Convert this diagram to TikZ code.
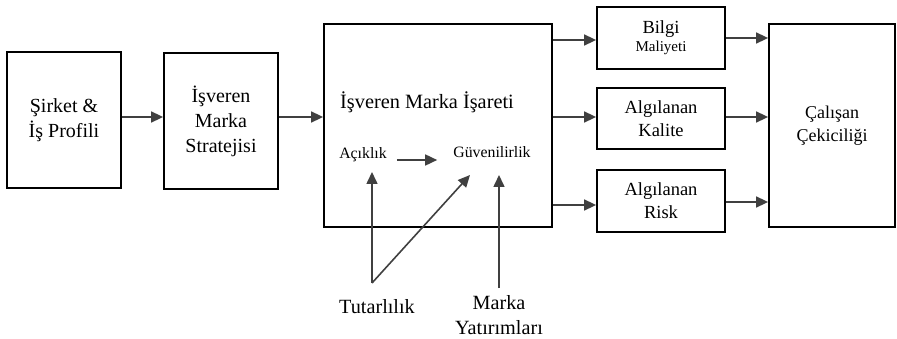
\documentclass[tikz,border=0pt]{standalone}
\usepackage{fontspec}
\setmainfont{Liberation Serif}
\usetikzlibrary{arrows.meta}
\definecolor{arrgray}{HTML}{404040}
\begin{document}
\begin{tikzpicture}[x=1pt,y=-1pt,
  box/.style={draw=black, line width=1.8pt, align=center, inner sep=0pt,
    font=\fontsize{20}{25}\selectfont},
  rbox/.style={box, font=\fontsize{18.5}{23}\selectfont},
  lbl/.style={align=center, inner sep=0pt, font=\fontsize{20.3}{25}\selectfont},
  small/.style={align=center, inner sep=0pt, font=\fontsize{15.8}{20}\selectfont},
  bottom/.style={align=center, inner sep=0pt, font=\fontsize{20.2}{25}\selectfont},
  arr/.style={draw=arrgray, line width=1.6pt, -{Triangle[length=12pt,width=11pt]}}]
\useasboundingbox (0,0) rectangle (897,339);
% boxes
\node[box, minimum width=114pt, minimum height=136pt] (b1) at (64,120) {Şirket \&\\İş Profili};
\node[box, minimum width=114pt, minimum height=136pt] (b2) at (221,121) {İşveren\\Marka\\Stratejisi};
\node[box, minimum width=228pt, minimum height=203pt] (b3) at (438,125.5) {};
\node[rbox, minimum width=128pt, minimum height=62pt] (bilgi) at (661,38)
  {Bilgi\\[-5pt]{\fontsize{15}{18}\selectfont Maliyeti}};
\node[rbox, minimum width=128pt, minimum height=61pt] (kalite) at (661,118.5) {Algılanan\\Kalite};
\node[rbox, minimum width=128pt, minimum height=62pt] (risk) at (661,201) {Algılanan\\Risk};
\node[box, font=\fontsize{18}{23}\selectfont, minimum width=126pt, minimum height=203pt] (cal) at (832,125.5) {Çalışan\\Çekiciliği};
% inner texts
\node[lbl] (isaret) at (427,102) {İşveren Marka İşareti};
\node[small] (acik) at (363,155) {Açıklık};
\node[small] (guven) at (492,152) {Güvenilirlik};
\node[bottom] (tut) at (377,307) {Tutarlılık};
\node[bottom] (yat) at (499,315) {Marka\\Yatırımları};
% helper coordinates
\coordinate (t0) at (372,283);
\coordinate (m0) at (499,288);
% main flow arrows
\draw[arr] (b1.east |- 0,117) -- (b2.west |- 0,117);
\draw[arr] (b2.east |- 0,117) -- (b3.west |- 0,117);
\draw[arr] (b3.east |- 0,40) -- (bilgi.west |- 0,40);
\draw[arr] (b3.east |- 0,117) -- (kalite.west |- 0,117);
\draw[arr] (b3.east |- 0,205) -- (risk.west |- 0,205);
\draw[arr] (bilgi.east |- 0,38) -- (cal.west |- 0,38);
\draw[arr] (kalite.east |- 0,117) -- (cal.west |- 0,117);
\draw[arr] (risk.east |- 0,202) -- (cal.west |- 0,202);
% inner arrows
\draw[arr] ([xshift=10pt]acik.east |- 0,160) -- ([xshift=-16pt]guven.west |- 0,160);
\draw[arr] (t0) -- (t0 |- 0,172);
\draw[arr] (t0) -- (470,175);
\draw[arr] (m0) -- (m0 |- 0,175);
\end{tikzpicture}
\end{document}
